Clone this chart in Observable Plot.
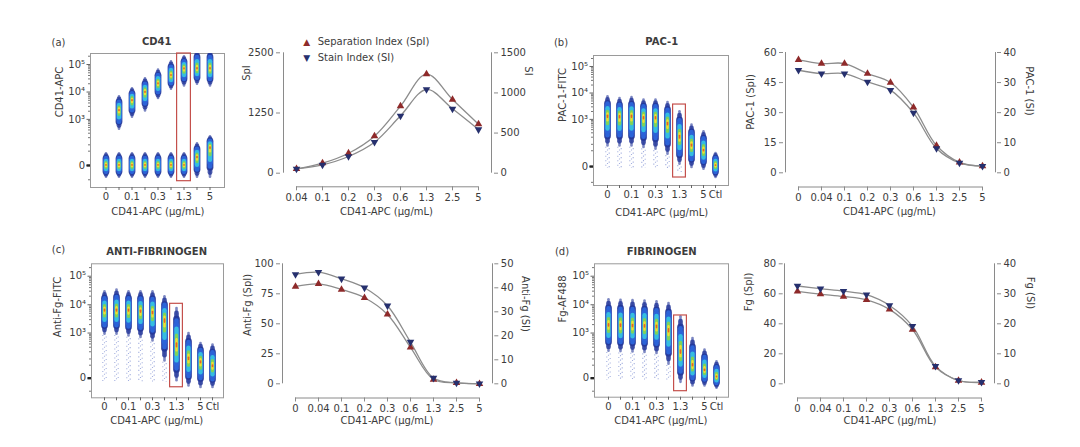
<!DOCTYPE html>
<html><head><meta charset="utf-8">
<script src="https://cdn.jsdelivr.net/npm/d3@7"></script>
<script src="https://cdn.jsdelivr.net/npm/@observablehq/plot@0.6"></script>
<style>
body{margin:0;background:#fff;}
#fig{position:relative;width:1080px;height:447px;font-family:"DejaVu Sans",sans-serif;color:#3c3c3c;overflow:hidden;background:#fff;}
#fig svg{position:absolute;overflow:visible;}
.t{position:absolute;white-space:nowrap;line-height:1;z-index:5;}
</style></head><body><div id="fig"></div>
<script>
// ---------- categories & tick labels ----------
const scatterCats9 = ["0","0.04","0.1","0.2","0.3","0.6","1.3","2.5","5"];
const scatterCats10 = ["0","0.04","0.1","0.2","0.3","0.6","1.3","2.5","5","Ctl"];
const scatterTickLabels9 = ["0","0.1","0.3","1.3","5"];
const scatterTickLabels10 = ["0","0.1","0.3","1.3","5","Ctl"];
const lineCatsA = ["0.04","0.1","0.2","0.3","0.6","1.3","2.5","5"];
const lineCats9 = ["0","0.04","0.1","0.2","0.3","0.6","1.3","2.5","5"];
const yTickValues = [0, 1e3, 1e4, 1e5];
const yTickLabels = ["0","10³","10⁴","10⁵"];
const yMinorTicks = [-50,50,100,200,300,400,500,600,700,800,900,2e3,3e3,4e3,5e3,6e3,7e3,8e3,9e3,2e4,3e4,4e4,5e4,6e4,7e4,8e4,9e4,2e5];

// ---------- (a) CD41 scatter ----------
const aUpCats = ["0.04","0.1","0.2","0.3","0.6","1.3","2.5","5"];
const aUpMid = [2130, 4930, 9890, 20000, 40000, 69900, 69900, 69900];
const aUpLo  = [382, 1080, 1840, 5230, 11400, 15000, 17300, 15000];
const aUpHi  = [7500, 14600, 33800, 69900, 140000, 212000, 351000, 351000];
const aLowMid = [0, 0, 0, 0, 0, 0, 0, 21, 76];
const aLowLo  = [-43, -43, -43, -43, -43, -43, -43, -43, -43];
const aLowHi  = [43, 43, 43, 43, 43, 43, 43, 126, 244];
const aBox = [-59, 251000];
// ---------- (b) PAC-1 scatter ----------
const bMid  = [1287, 1245, 1287, 1147, 1147, 673, 200, 88, 51, 1.5];
const bLo   = [74, 74, 74, 62, 51, 27, 1.5, -3.7, -7, -32];
const bHi   = [8060, 6950, 7500, 6050, 6050, 4920, 2180, 673, 370, 42];
const bTail = [-3, -3, -3, -3, -3, -3, -12, -3.7, -7, -32];
const bBox = [-27, 3670];
// ---------- (c) Anti-fibrinogen scatter ----------
const cMid  = [6290, 6290, 6290, 5800, 5210, 2800, 349, 102, 71, 44];
const cLo   = [815, 815, 707, 618, 465, 71, -10, -29, -36, -36];
const cHi   = [31600, 36200, 31600, 31600, 31600, 21100, 8230, 1070, 465, 405];
const cTail = [-10, -10, -10, -10, -10, -10, -10, -29, -36, -36];
const cBox = [-29, 10800];
// ---------- (d) Fibrinogen scatter ----------
const dMid  = [1860, 1820, 1780, 1720, 1650, 1230, 192, 48, 23, 2.3];
const dLo   = [187, 180, 175, 165, 150, 48, -15, -29, -29, -40];
const dHi   = [16600, 16000, 15500, 15000, 14000, 12300, 4200, 707, 262, 85];
const dTail = [-4, -4, -4, -4, -4, -4, -15, -29, -29, -40];
const dBox = [-50, 4200];

// ---------- line charts: SpI and SI ----------
const aSpI = [90, 208, 415, 769, 1392, 2057, 1530, 1018];
const aSI  = [54, 104, 208, 386, 715, 1043, 802, 544];
const aSpITicks = [0, 1250, 2500], aSITicks = [0, 500, 1000, 1500];
const bSpI = [56.3, 54.5, 54.5, 49.5, 45.0, 32.6, 13.6, 5.2, 3.3];
const bSI  = [34.1, 33.0, 33.0, 30.2, 27.5, 19.9, 8.1, 3.3, 2.2];
const bSpITicks = [0, 15, 30, 45, 60], bSITicks = [0, 10, 20, 30, 40];
const cSpI = [81.1, 83.3, 78.6, 71.7, 57.8, 30.3, 3.6, 0.8, 0];
const cSI  = [45.6, 46.5, 43.75, 40, 32.5, 17.4, 2.4, 0.4, 0.1];
const cSpITicks = [0, 25, 50, 75, 100], cSITicks = [0, 10, 20, 30, 40, 50];
const dSpI = [61.6, 59.8, 58.2, 56, 49.6, 36.2, 11.1, 2.2, 0.9];
const dSI  = [32.6, 31.7, 30.9, 29.7, 26.1, 19.2, 5.9, 1.1, 0.55];
const dSpITicks = [0, 20, 40, 60, 80], dSITicks = [0, 10, 20, 30, 40];

// ---------- styling ----------
const fig = document.getElementById("fig");
const C_RED = "#8e2a2a", C_NAVY = "#26306e", AX = "#8a8a8a", TXT = "#3c3c3c";
// density layers: fraction of the population extent, stroke width, colour, opacity
const layers = [
  {f: 1.00, w: 2.6, color: "#24379a", op: 0.6},
  {f: 0.90, w: 4.8, color: "#24379a", op: 0.8},
  {f: 0.76, w: 6.8, color: "#24379a", op: 0.9},
  {f: 0.70, w: 4.6, color: "#2c63d8", op: 1},
  {f: 0.58, w: 6.0, color: "#2c63d8", op: 1},
  {f: 0.48, w: 4.4, color: "#35bde0", op: 1},
  {f: 0.30, w: 3.2, color: "#7fd35a", op: 1},
  {f: 0.18, w: 2.4, color: "#eedd35", op: 1},
  {f: 0.07, w: 1.6, color: "#e8602a", op: 1}
];
const baseStyle = {fontFamily: "DejaVu Sans", fontSize: "10px", color: TXT, background: "transparent", overflow: "visible"};

function symT(v, C) { return Math.sign(v) * Math.log1p(Math.abs(v) / C); }
function symInv(u, C) { return Math.sign(u) * C * Math.expm1(Math.abs(u)); }

function place(svg, left, top) {
  svg.style.position = "absolute";
  svg.style.left = left + "px";
  svg.style.top = top + "px";
  fig.appendChild(svg);
}

function scatter(cfg) {
  const {left, top, width, height, fr, cats, tickLabels, yDomain, C, inL, inR, pops, box} = cfg;
  const marks = [Plot.frame({stroke: "#9a9a9a"})];
  const tails = pops.filter(p => p.tail !== undefined && p.tail < p.lo);
  [[-1.7, 0], [0, 1.8], [1.7, 3.1]].forEach(([dx, off]) => {
    marks.push(Plot.ruleX(tails, {x: "cat", y1: "lo", y2: "tail", dx, stroke: "#3550b8", strokeWidth: 1.1,
      strokeDasharray: "1.1 3.4", strokeDashoffset: off, strokeOpacity: 0.45, clip: true}));
  });
  layers.forEach(L => {
    marks.push(Plot.ruleX(pops, {
      x: "cat",
      y1: p => symInv(symT(p.mid, C) + L.f * (symT(p.hi, C) - symT(p.mid, C)), C),
      y2: p => symInv(symT(p.mid, C) + L.f * (symT(p.lo, C) - symT(p.mid, C)), C),
      stroke: L.color, strokeOpacity: L.op, strokeWidth: L.w, strokeLinecap: "round",
      insetTop: L.w / 2, insetBottom: L.w / 2, clip: true
    }));
  });
  marks.push(Plot.barY([{cat: "1.3", lo: box[0], hi: box[1]}], {x: "cat", y1: "lo", y2: "hi", fill: "none",
    stroke: "#c4504c", strokeWidth: 1.2, insetLeft: -0.4, insetRight: -0.4}));
  marks.push(Plot.axisX({ticks: cats, tickSize: 3, tickPadding: 2.5, tickFormat: d => tickLabels.includes(d) ? d : "",
    stroke: "#666", label: null}));
  marks.push(Plot.axisY({ticks: yMinorTicks.filter(v => v > yDomain[0] && v < yDomain[1]), tickSize: 2,
    tickFormat: () => "", stroke: "#777", label: null}));
  marks.push(Plot.axisY({ticks: yTickValues, tickSize: 3.5, tickPadding: 2,
    tickFormat: d => yTickLabels[yTickValues.indexOf(d)], stroke: "#666", label: null}));
  marks.push(Plot.axisY({ticks: [0], tickSize: 3.5, strokeWidth: 2.4, stroke: "#222", tickFormat: () => "", label: null}));
  const svg = Plot.plot({
    width, height,
    marginLeft: fr[0] - left, marginTop: fr[1] - top,
    marginRight: left + width - fr[2], marginBottom: top + height - fr[3],
    x: {type: "band", domain: cats, padding: 0, insetLeft: inL, insetRight: inR, label: null},
    y: {type: "symlog", constant: C, domain: yDomain, label: null},
    style: baseStyle,
    marks
  });
  place(svg, left, top);
}

function lineChart(cfg) {
  const {left, top, width, height, axL, axR, yTop, yZero, xAx, cats, spi, si, lTicks, rTicks} = cfg;
  const lMax = lTicks[lTicks.length - 1], rMax = rTicks[rTicks.length - 1];
  const k = lMax / rMax;
  const tbl = cats.map((c, i) => ({c, spi: spi[i], si: si[i] * k}));
  const ins = 13;
  const last = cats[cats.length - 1];
  const marks = [
    Plot.ruleX([cats[0]], {y1: 0, y2: lMax, dx: -ins, stroke: AX}),
    Plot.ruleX([last], {y1: 0, y2: lMax, dx: ins, stroke: AX}),
    Plot.ruleY([0], {x1: () => cats[0], x2: () => last, dy: xAx - yZero, stroke: AX}),
    Plot.line(tbl, {x: "c", y: "spi", curve: "catmull-rom", stroke: "#8c8c8c", strokeWidth: 1.3}),
    Plot.line(tbl, {x: "c", y: "si", curve: "catmull-rom", stroke: "#8c8c8c", strokeWidth: 1.3}),
    Plot.dot(tbl, {x: "c", y: "spi", symbol: "triangle", r: 2.8, fill: C_RED}),
    Plot.dot(tbl, {x: "c", y: "si", symbol: "triangle", r: 2.8, fill: C_NAVY, rotate: 180}),
    Plot.axisY({ticks: lTicks, tickSize: 4, tickPadding: 3, tickFormat: d => String(d), stroke: AX, label: null}),
    Plot.axisY({anchor: "right", ticks: rTicks.map(v => v * k), tickSize: 4, tickPadding: 3,
      tickFormat: v => String(Math.round(v / k)), stroke: AX, label: null}),
    Plot.axisX({ticks: cats, tickSize: 4, tickPadding: 3, stroke: AX, label: null})
  ];
  const svg = Plot.plot({
    width, height,
    marginLeft: axL - left, marginRight: left + width - axR,
    marginTop: yTop - top, marginBottom: top + height - xAx,
    x: {type: "point", domain: cats, padding: 0, insetLeft: ins, insetRight: ins, label: null},
    y: {domain: [0, lMax], insetBottom: xAx - yZero, label: null},
    style: baseStyle,
    marks
  });
  place(svg, left, top);
}

function text(txt, x, y, o = {}) {
  const el = document.createElement("div");
  el.className = "t";
  el.textContent = txt;
  el.style.left = x + "px";
  el.style.top = y + "px";
  el.style.fontSize = (o.size || 10) + "px";
  el.style.color = o.color || TXT;
  if (o.bold) el.style.fontWeight = "bold";
  const tx = o.align === "left" ? "0" : "-50%";
  el.style.transform = `translate(${tx},-50%) rotate(${o.rot || 0}deg)`;
  fig.appendChild(el);
}

// ---------- build populations ----------
const popsA = [
  ...aUpCats.map((cat, i) => ({cat, mid: aUpMid[i], lo: aUpLo[i], hi: aUpHi[i]})),
  ...scatterCats9.map((cat, i) => ({cat, mid: aLowMid[i], lo: aLowLo[i], hi: aLowHi[i]}))
];
const mk = (mid, lo, hi, tail) => scatterCats10.map((cat, i) => ({cat, mid: mid[i], lo: lo[i], hi: hi[i], tail: tail[i]}));

scatter({left: 58, top: 40, width: 172, height: 176, fr: [90, 53, 224, 187], cats: scatterCats9,
  tickLabels: scatterTickLabels9, yDomain: [-115, 251000], C: 21.7, inL: 6.6, inR: 6.6, pops: popsA, box: aBox});
scatter({left: 561, top: 42, width: 173, height: 176, fr: [593, 55, 728, 185], cats: scatterCats10,
  tickLabels: scatterTickLabels10, yDomain: [-71, 259600], C: 17, inL: 7.6, inR: 5.9, pops: mk(bMid, bLo, bHi, bTail), box: bBox});
scatter({left: 59, top: 250, width: 170, height: 175, fr: [91, 263.3, 223, 397.3], cats: scatterCats10,
  tickLabels: scatterTickLabels10, yDomain: [-104, 272000], C: 27, inL: 7, inR: 4.7, pops: mk(cMid, cLo, cHi, cTail), box: cBox});
scatter({left: 562, top: 250, width: 172, height: 175, fr: [594, 263.3, 728, 396.7], cats: scatterCats10,
  tickLabels: scatterTickLabels10, yDomain: [-98, 272000], C: 27, inL: 6.6, inR: 5.2, pops: mk(dMid, dLo, dHi, dTail), box: dBox});

lineChart({left: 240, top: 30, width: 300, height: 190, axL: 280, axR: 493, yTop: 52.3, yZero: 172.7, xAx: 186.3,
  cats: lineCatsA, spi: aSpI, si: aSI, lTicks: aSpITicks, rTicks: aSITicks});
lineChart({left: 740, top: 30, width: 300, height: 190, axL: 783, axR: 996, yTop: 52, yZero: 172.3, xAx: 186.5,
  cats: lineCats9, spi: bSpI, si: bSI, lTicks: bSpITicks, rTicks: bSITicks});
lineChart({left: 240, top: 240, width: 300, height: 190, axL: 280, axR: 493.3, yTop: 263.3, yZero: 383.3, xAx: 397.5,
  cats: lineCats9, spi: cSpI, si: cSI, lTicks: cSpITicks, rTicks: cSITicks});
lineChart({left: 740, top: 240, width: 300, height: 190, axL: 782.7, axR: 996, yTop: 263.3, yZero: 383.3, xAx: 397.5,
  cats: lineCats9, spi: dSpI, si: dSI, lTicks: dSpITicks, rTicks: dSITicks});

// ---------- texts ----------
const xTitle = "CD41-APC (µg/mL)";
text("(a)", 58.5, 42.7); text("CD41", 156.7, 41.7, {bold: true});
text("(b)", 561, 43); text("PAC-1", 661.7, 41.7, {bold: true});
text("(c)", 58.5, 249.5); text("ANTI-FIBRINOGEN", 156.7, 252, {bold: true});
text("(d)", 562, 251.5); text("FIBRINOGEN", 661.7, 252.3, {bold: true});
text("CD41-APC", 60, 92, {rot: -90});
text("PAC-1-FITC", 563, 95, {rot: -90});
text("Anti-Fg-FITC", 58.3, 306.5, {rot: -90});
text("Fg-AF488", 562.7, 299, {rot: -90});
text(xTitle, 157.8, 211.7); text(xTitle, 661.7, 212.7); text(xTitle, 156.7, 421); text(xTitle, 660.8, 421);
text(xTitle, 386.5, 211.7); text(xTitle, 889.5, 211.7); text(xTitle, 387, 420.5); text(xTitle, 890, 420.5);
text("SpI", 247, 72.5, {rot: -90}); text("SI", 527.5, 71, {rot: 90});
text("PAC-1 (SpI)", 751, 101.7, {rot: -90}); text("PAC-1 (SI)", 1029, 90.8, {rot: 90});
text("Anti-Fg (SpI)", 247.5, 305, {rot: -90}); text("Anti-Fg (SI)", 525, 304, {rot: 90});
text("Fg (SpI)", 749, 291.7, {rot: -90}); text("Fg (SI)", 1029.5, 292.5, {rot: 90});
text("▲", 306.7, 41.7, {color: C_RED, size: 9}); text("Separation Index (SpI)", 317.7, 41.7, {align: "left"});
text("▼", 306.7, 58.3, {color: C_NAVY, size: 9}); text("Stain Index (SI)", 317.7, 58.3, {align: "left"});
</script></body></html>
